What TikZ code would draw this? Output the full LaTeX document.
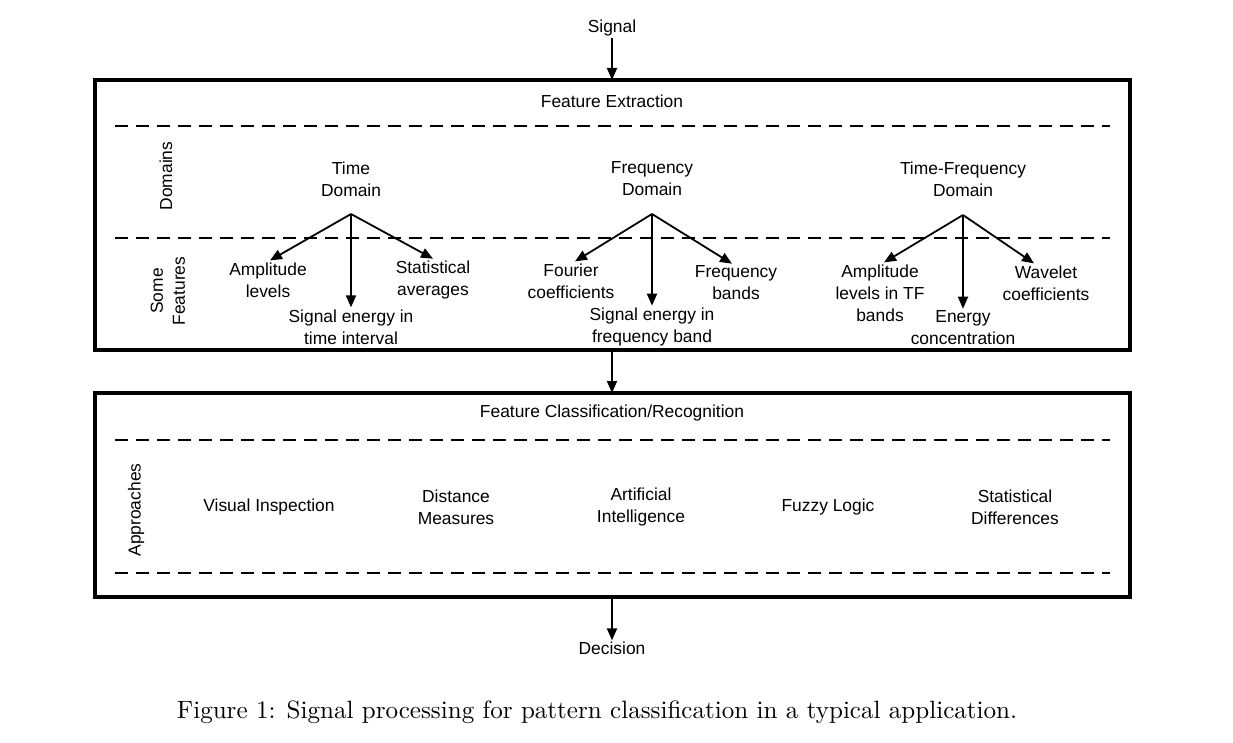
\documentclass[tikz,border=0pt]{standalone}
\usepackage{fontspec}
\newfontfamily\arialf{Liberation Sans}
\usetikzlibrary{arrows.meta}
\begin{document}
\begin{tikzpicture}[x=1pt,y=-1pt,
  txt/.style={font=\arialf\fontsize{17.4}{22}\selectfont, align=center, inner sep=2pt},
  bigbox/.style={line width=3.2pt},
  sep/.style={line width=2.5pt, dash pattern=on 13pt off 8pt},
  arr/.style={line width=1.8pt, -{Triangle[length=12pt,width=10pt]}},
  lnk/.style={line width=1.8pt}]
\useasboundingbox (0,0) rectangle (1233,743);
% top
\node[txt] (sig) at (612,28) {Signal};
% box 1
\draw[bigbox] (95,80) rectangle (1130,350);
\coordinate (b1top) at (612,80);
\coordinate (b1bot) at (612,350);
\node[txt] (fe) at (612,101) {Feature Extraction};
\draw[sep] (115,126) -- (1110,126);
\draw[sep] (115,238) -- (1110,238);
\node[txt, rotate=90] (dom) at (166,176) {Domains};
\node[txt, rotate=90] (sf) at (168,291) {Some\\Features};
% time domain
\node[txt] (td) at (351,179) {Time\\Domain};
\coordinate (tda) at (351,214);
\node[txt] (amp) at (268,280) {Amplitude\\levels};
\node[txt] (stat) at (433,280) {Statistical\\averages};
\node[txt] (set) at (351,327) {Signal energy in\\time interval};
\draw[arr] (tda) -- ([xshift=2pt]amp.north);
\draw[arr] (tda) -- (stat.north);
\draw[arr] (tda) -- (set.north);
% frequency domain
\node[txt] (fd) at (652,179) {Frequency\\Domain};
\coordinate (fda) at (652,214);
\node[txt] (fou) at (571,281) {Fourier\\coefficients};
\node[txt] (fb) at (736,283) {Frequency\\bands};
\node[txt] (sef) at (652,327) {Signal energy in\\frequency band};
\draw[arr] (fda) -- ([xshift=4pt]fou.north);
\draw[arr] (fda) -- ([xshift=-4pt]fb.north);
\draw[arr] (fda) -- (sef.north);
% time-frequency domain
\node[txt] (tfd) at (963,179) {Time-Frequency\\Domain};
\coordinate (tfa) at (963,215);
\node[txt] (atf) at (880,293) {Amplitude\\levels in TF\\bands};
\node[txt] (wav) at (1046,283) {Wavelet\\coefficients};
\node[txt] (ec) at (963,328) {Energy\\concentration};
\draw[arr] (tfa) -- ([xshift=4pt]atf.north);
\draw[arr] (tfa) -- ([xshift=-12pt]wav.north);
\draw[arr] (tfa) -- (ec.north);
% box 2
\draw[bigbox] (95,393) rectangle (1130,597);
\coordinate (b2top) at (612,393);
\coordinate (b2bot) at (612,597);
\node[txt] (fc) at (612,413) {Feature Classification/Recognition};
\draw[sep] (115,440) -- (1110,440);
\draw[sep] (115,573) -- (1110,573);
\node[txt, rotate=90] (app) at (136,510) {Approaches};
\node[txt] (vi) at (269,507) {Visual Inspection};
\node[txt] (dm) at (456,507) {Distance\\Measures};
\node[txt] (ai) at (641,507) {Artificial\\Intelligence};
\node[txt] (fl) at (828,507) {Fuzzy Logic};
\node[txt] (sd) at (1015,507) {Statistical\\Differences};
% decision
\node[txt] (dec) at (612,648) {Decision};
% main arrows
\draw[arr] (sig.south) -- (b1top);
\draw[arr] (b1bot) -- (b2top);
\draw[arr] (b2bot) -- ([yshift=-1pt]dec.north);
% caption
\node[inner sep=0pt] (cap) at (597,712) {\resizebox{840pt}{!}{Figure 1: Signal processing for pattern classification in a typical application.}};
\end{tikzpicture}
\end{document}
